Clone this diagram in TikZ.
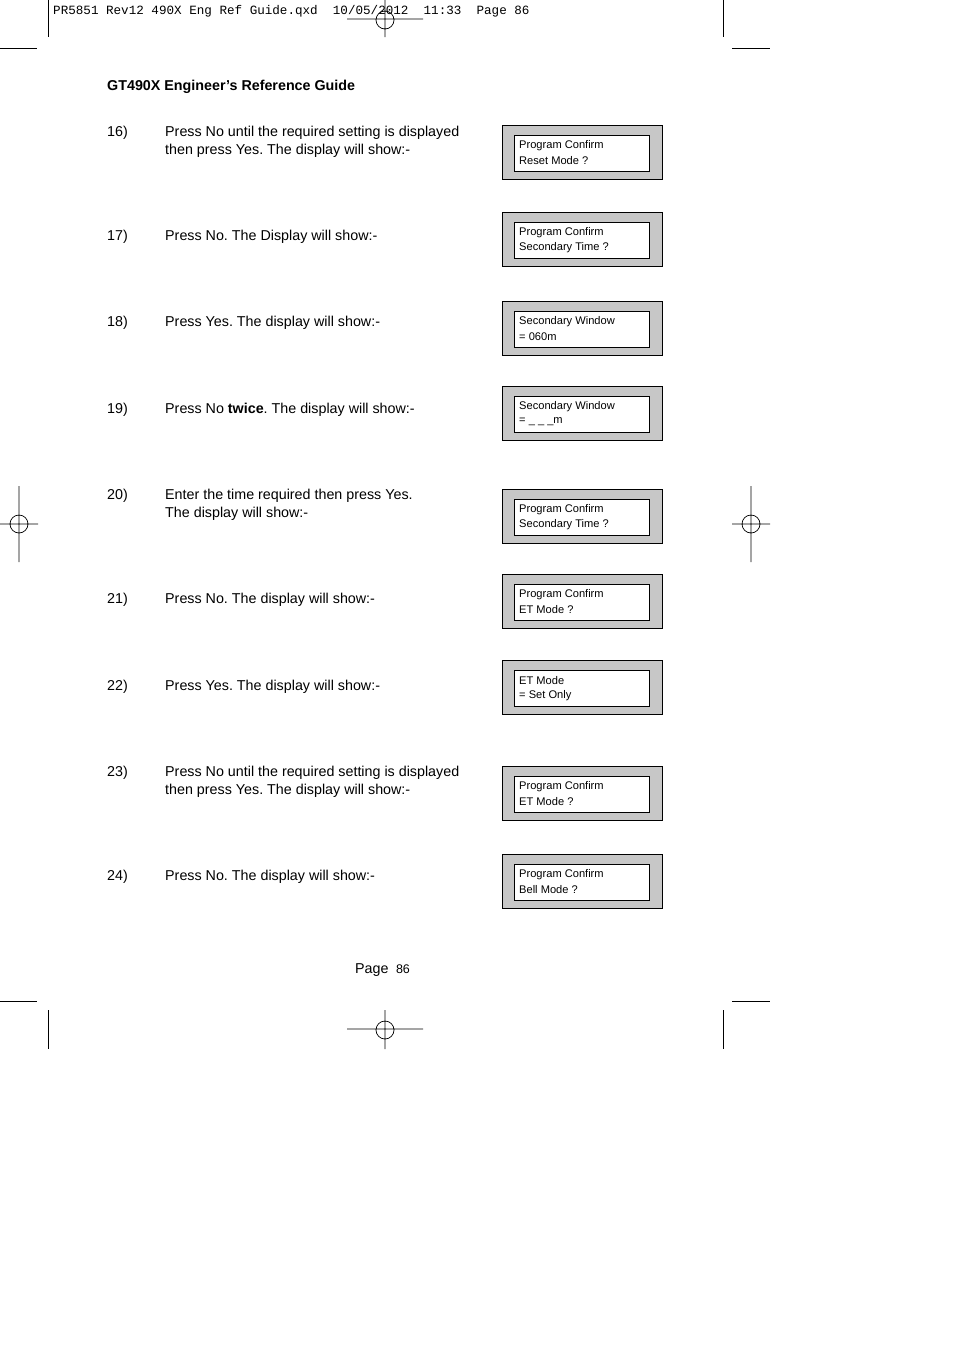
\documentclass[tikz,border=0pt]{standalone}
\usepackage{fontspec}
\setmainfont{Liberation Sans}
\newfontfamily\hdrfont{Liberation Mono}
\frenchspacing
\begin{document}
\begin{tikzpicture}[x=1pt,y=-1pt,
  mark line/.style={line width=0.7pt},
  outerbox/.style={draw,line width=0.7pt,fill=black!22},
  innerbox/.style={draw,line width=0.7pt,fill=white},
  lcd/.style={font=\fontsize{11.1}{13}\selectfont,anchor=west,align=left,inner sep=0pt},
  body/.style={font=\fontsize{14.3}{18}\selectfont,anchor=north west,align=left,inner sep=0pt},
  num/.style={font=\fontsize{14.3}{18}\selectfont,anchor=north west,inner sep=0pt}]
\useasboundingbox (0,0) rectangle (954,1350);
% header
\node[font=\hdrfont\fontsize{12.6}{14}\selectfont,anchor=west,inner sep=0pt] (hdr) at (53,11) {PR5851 Rev12 490X Eng Ref Guide.qxd\ \ 10/05/2012\ \ 11:33\ \ Page 86};
% crop marks
\draw[mark line] (48,0)--(48,37) (723,0)--(723,37) (0,48)--(37,48) (732,48)--(770,48);
\draw[mark line] (385,0)--(385,37) (347,19)--(423,19) (385,20) circle (9);
\draw[mark line] (19,486)--(19,562) (0,524)--(38,524) (19,524) circle (9);
\draw[mark line] (751,486)--(751,562) (732,524)--(770,524) (751,524) circle (9);
\draw[mark line] (0,1001)--(37,1001) (732,1001)--(770,1001) (48,1010)--(48,1049) (723,1010)--(723,1049);
\draw[mark line] (385,1010)--(385,1049) (347,1029)--(423,1029) (385,1030) circle (9);
\node[font=\bfseries\fontsize{14.3}{16}\selectfont,anchor=west,inner sep=0pt] (title) at (107,87) {GT490X Engineer’s Reference Guide};
% steps
\foreach \n/\y/\t in {16)/126/{Press No until the required setting is displayed\\then press Yes. The display will show:-},
 17)/230/{Press No. The Display will show:-},
 18)/316/{Press Yes. The display will show:-},
 23)/766/{Press No until the required setting is displayed\\then press Yes. The display will show:-},
 20)/489/{Enter the time required then press Yes.\\The display will show:-},
 21)/593/{Press No. The display will show:-},
 22)/680/{Press Yes. The display will show:-},
 24)/870/{Press No. The display will show:-}}{
  \node[num] (n\n) at (107,\y) {\n};
  \node[body] (t\n) at (165,\y) {\t};
}
\node[num] (n19) at (107,403) {19)};
\node[body] (t19) at (165,403) {Press No \textbf{twice}. The display will show:-};
% displays
\foreach \k/\y/\a/\b in {1/125/Program Confirm/Reset Mode ?,
 2/212/Program Confirm/Secondary Time ?,
 3/301/Secondary Window/= 060m,
 4/386/Secondary Window/= \_ \_ \_m,
 5/489/Program Confirm/Secondary Time ?,
 6/574/Program Confirm/ET Mode ?,
 7/660/ET Mode/= Set Only,
 8/766/Program Confirm/ET Mode ?,
 9/854/Program Confirm/Bell Mode ?}{
  \draw[outerbox] (502,\y) rectangle (662,\y+54);
  \draw[innerbox] (514,\y+10) rectangle (649,\y+46);
  \node[lcd] (la\k) at (519,\y+20.5) {\a};
  \node[lcd] (lb\k) at (519,\y+35.5) {\b};
}
\node[font=\fontsize{14.3}{16}\selectfont,anchor=west,inner sep=0pt] (pg) at (355,970) {Page \fontsize{12.5}{14}\selectfont\ 86};
\end{tikzpicture}
\end{document}
